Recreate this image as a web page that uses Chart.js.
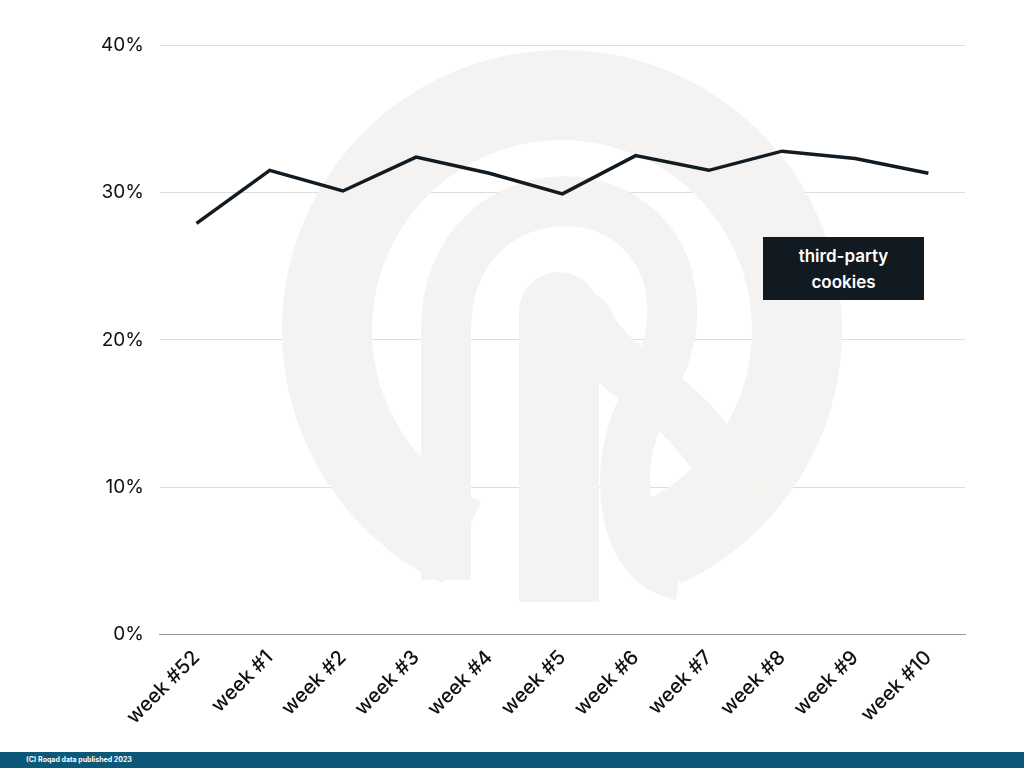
<!DOCTYPE html>
<html><head><meta charset="utf-8">
<script src="https://cdn.jsdelivr.net/npm/chart.js@4"></script>
<style>
html,body{margin:0;padding:0;background:#fff;font-family:Inter,sans-serif}
#wrap{position:relative;width:1024px;height:768px}
#c{position:absolute;left:0;top:0}
#label{position:absolute;left:763px;top:237px;width:161px;height:63px;background:#111a21;color:#fff;font-weight:600;font-size:17px;line-height:26px;text-align:center;display:flex;align-items:center;justify-content:center}
#footer{position:absolute;left:0;top:752px;width:1024px;height:16px;background:#0b5878;color:#fff;font-size:7px;font-weight:700;line-height:16px;padding-left:26px;box-sizing:border-box}
</style></head><body>
<div id="wrap">
<canvas id="c" width="1024" height="752"></canvas>
<div id="label">third-party<br>cookies</div>
<div id="footer">(C) Roqad data published 2023</div>
</div>
<script>
const categories=["week #52","week #1","week #2","week #3","week #4","week #5","week #6","week #7","week #8","week #9","week #10"];
const cookieValues=[27.9,31.5,30.1,32.4,31.3,29.9,32.5,31.5,32.8,32.3,31.3];
const yTicks=[0,10,20,30,40];

const watermark={id:'wm',beforeDatasetsDraw(chart){
  const c=chart.ctx;c.save();
  c.strokeStyle='#f5f3f1';c.lineCap='butt';
  c.lineWidth=90;
  c.beginPath();c.arc(562,330,235,Math.PI*0.64,Math.PI*2.36);c.stroke();
  c.lineWidth=50;
  c.beginPath();c.moveTo(446,580);c.lineTo(446,330);
  c.bezierCurveTo(446,160,680,160,672,320);
  c.bezierCurveTo(668,380,625,410,625,480);
  c.bezierCurveTo(625,540,650,570,680,575);
  c.stroke();
  c.lineWidth=80;c.lineCap='round';
  c.beginPath();c.moveTo(559,312);c.lineTo(559,560);c.stroke();
  c.lineCap='butt';c.beginPath();c.moveTo(559,540);c.lineTo(559,602);c.stroke();
  c.lineWidth=55;c.lineCap='round';
  c.beginPath();c.moveTo(585,320);c.bezierCurveTo(610,380,690,390,735,490);c.stroke();
  c.restore();
}};

new Chart(document.getElementById('c'),{
  type:'line',
  data:{labels:categories,datasets:[{data:cookieValues,borderColor:'#131b22',borderWidth:3.5,pointRadius:0,tension:0,fill:false}]},
  plugins:[watermark],
  options:{responsive:false,animation:false,
    layout:{padding:{left:85,right:59,top:45,bottom:20}},
    plugins:{legend:{display:false},tooltip:{enabled:false}},
    scales:{
      x:{offset:true,grid:{display:false},border:{color:'#999'},
        ticks:{color:'#111',font:{family:'Inter',size:20,weight:'500'},maxRotation:45,minRotation:45}},
      y:{min:0,max:40,afterBuildTicks(s){s.ticks=yTicks.map(v=>({value:v}));},
        grid:{color:'#dddddd',drawTicks:false},border:{display:false},
        ticks:{color:'#111',padding:16,font:{family:'Inter',size:19},callback:v=>v+'%'}}
    }}
});
</script></body></html>
